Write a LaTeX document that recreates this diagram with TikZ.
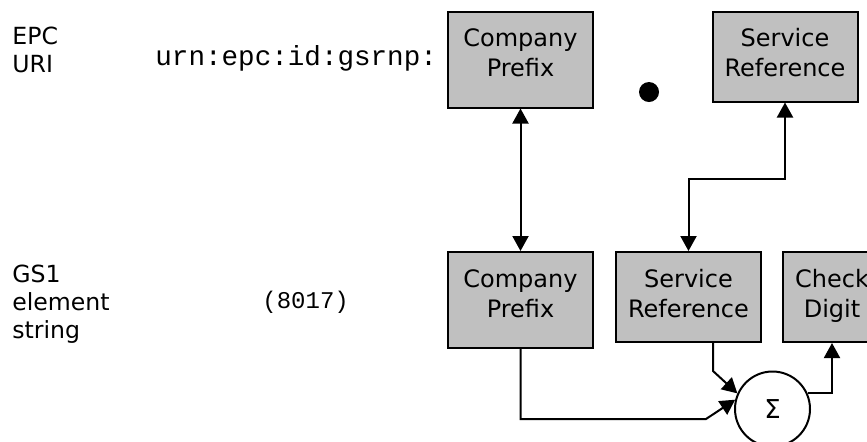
\documentclass[tikz,border=0pt]{standalone}
\usepackage{fontspec}
\setmainfont{DejaVu Sans}
\newfontfamily\monofont{Liberation Mono}
\usetikzlibrary{calc, arrows.meta}
\definecolor{field grey}{HTML}{C0C0C0}

\begin{document}
\begin{tikzpicture}[x = 0.5pt, y = -0.5pt,
		every node/.style = {font = \fontsize{11.8}{14}\selectfont},
		field/.style = {draw, fill = field grey, line width = 1pt, align = center, anchor = north, inner xsep = 0pt, inner ysep = 0pt, font = \fontsize{12}{15}\selectfont, text height = 32.5pt},
		label/.style = {anchor = base west, align = left, inner sep = 0pt},
		link/.style = {line width = 1pt, >={Triangle[length = 7.5pt, width = 8pt]}}]
		\def\wide{72.5pt};
		\def\narrow{49pt};
		\def\tall{15.5pt};
		\def\short{12.5pt};
		
		\useasboundingbox (0,0) rectangle (867,441);
		
		\node[label] (uri label) at (12,72) {EPC\\URI};
		\node[label, font = \monofont\fontsize{13.8}{16}\selectfont] (uri header) at (155,65) {urn:epc:id:gsrnp:};
		\node[label] (gs label) at (12,338) {GS1\\element\\string};
		\node[label, font = \monofont\fontsize{12}{14}\selectfont] (gs header) at (262,308) {(8017)};
		
		\node[field, minimum width = \wide, text depth = \tall] (uri prefix) at (520.5,10.5) {Company\\Prefix};
		\node[field, minimum width = \wide, text depth = \short] (uri service) at (785,10.5) {Service\\Reference};
		\node[circle, fill, inner sep = 0pt, minimum size = 10pt] (uri dot) at (649,92) {};
		
		\node[field, minimum width = \wide, text depth = \tall] (gs prefix) at (520.5,251) {Company\\Prefix};
		\node[field, minimum width = \wide, text depth = \short] (gs service) at (688.5,251) {Service\\Reference};
		\node[field, minimum width = \narrow, text depth = \short] (check digit) at (832,251) {Check\\Digit};
		\node[draw, circle, line width = 1pt, inner sep = 0pt, minimum size = 37.5pt, font = \fontsize{13}{15}\selectfont] (sum) at (772.5,409) {Σ};
		
		\coordinate(service step) at (785,179);
		\coordinate(prefix knee) at (706,419);
		\coordinate(service knee) at (713,371);
		
		\draw [link, <->] (uri prefix) -- (gs prefix);
		\draw [link, <->] (gs service.north) |- (service step) -- (uri service.south);
		\draw [link, ->] (gs prefix.south) |- (prefix knee) -- (sum.166);
		\draw [link, ->] (service knee |- gs service.south) -- (service knee) -- (sum.156);
		\draw [link, ->] (sum.24) -| (check digit.south);
	\end{tikzpicture}
\end{document}
